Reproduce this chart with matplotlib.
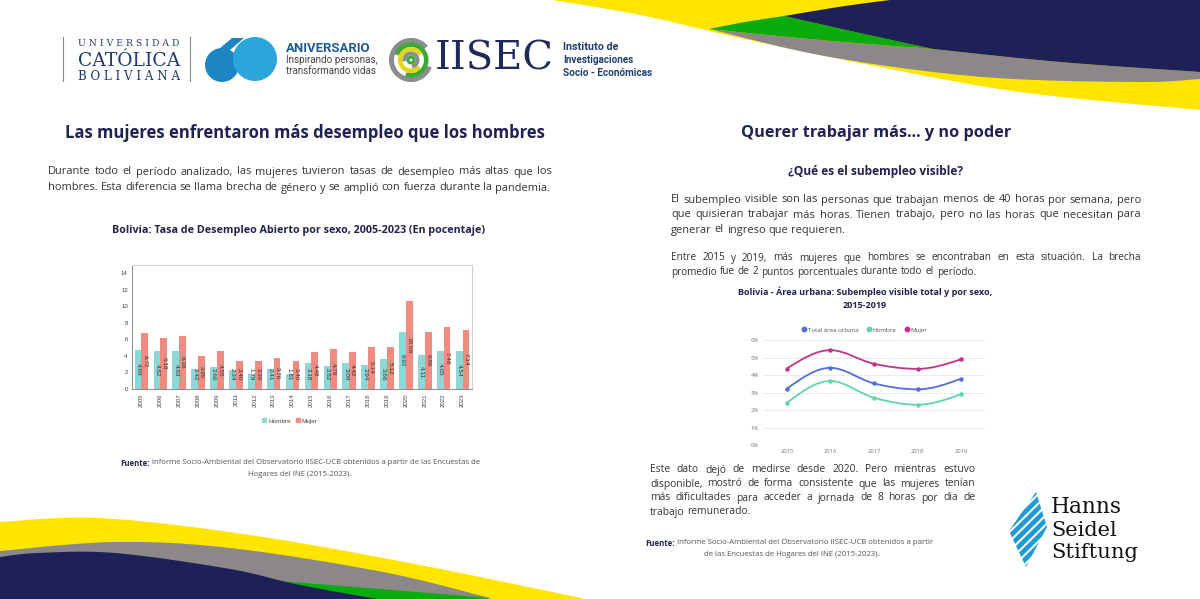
import numpy as np
import matplotlib
matplotlib.use('Agg')
import matplotlib.pyplot as plt
from matplotlib.path import Path
from matplotlib.patches import PathPatch, Patch, Circle, Wedge, Polygon
from matplotlib.lines import Line2D

# --- data ---------------------------------------------------------------
years_bar = ['2005', '2006', '2007', '2008', '2009', '2011', '2012', '2013', '2014',
             '2015', '2016', '2017', '2018', '2019', '2020', '2021', '2022', '2023']
hombre_bar = [4.69, 4.62, 4.63, 2.42, 2.66, 2.34, 1.79, 2.41, 1.81,
              3.18, 2.82, 3.09, 2.94, 3.66, 6.92, 4.11, 4.65, 4.54]
mujer_bar = [6.72, 6.18, 6.36, 3.95, 4.55, 3.40, 3.39, 3.76, 3.40,
             4.48, 4.79, 4.42, 5.14, 5.12, 10.66, 6.86, 7.48, 7.14]

years_line = ['2015', '2016', '2017', '2018', '2019']
total_line = [3.22, 4.41, 3.52, 3.18, 3.79]
hombre_line = [2.41, 3.66, 2.70, 2.30, 2.91]
mujer_line = [4.37, 5.42, 4.64, 4.35, 4.90]

W, H = 1200, 599
NAVY = '#1f2352'
TXT = '#333333'
BODY = 'Open Sans'

plt.rcParams['font.family'] = [BODY, 'DejaVu Sans']

fig = plt.figure(figsize=(W / 100, H / 100), dpi=100)
bg = fig.add_axes([0, 0, 1, 1])
bg.set_xlim(0, W)
bg.set_ylim(H, 0)
bg.axis('off')
R = fig.canvas.get_renderer()


def px_axes(l, t, r, b):
    return fig.add_axes([l / W, 1 - b / H, (r - l) / W, (b - t) / H])


def width_of(t):
    return t.get_window_extent(R).width


def fit(x, y, s, w, ha='left', **kw):
    t = bg.text(x, y, s, fontsize=10, ha=ha, va='center', **kw)
    t.set_fontsize(10 * w / width_of(t))
    return t


def word_widths(line, size):
    # each measured text carries a fixed extra width; take it off
    ts = [bg.text(0, 0, s, fontsize=size) for s in ['n', 'nn'] + line.split()]
    ws = [width_of(t) for t in ts]
    for t in ts:
        t.remove()
    extra = 2 * ws[0] - ws[1]
    return [w - extra for w in ws[2:]]


def place(line, x0, y, size, gap):
    x = x0
    for wd, w in zip(line.split(), word_widths(line, size)):
        bg.text(x, y, wd, fontsize=size, color=TXT, va='center')
        x += w + gap


def paragraph(lines, x0, x1, y0, dy, last_w, last_gap=3.0):
    # size from the width of the last (left aligned) line, full lines justified
    ws = word_widths(lines[-1], 10)
    size = 10 * (last_w - last_gap * (len(ws) - 1)) / sum(ws)
    for i, ln in enumerate(lines[:-1]):
        ws = word_widths(ln, size)
        place(ln, x0, y0 + dy * i, size, (x1 - x0 - sum(ws)) / (len(ws) - 1))
    place(lines[-1], x0, y0 + dy * (len(lines) - 1), size, last_gap)


def source(parts, xc, y, size, ha='center'):
    ts = [bg.text(0, y, s, fontsize=size, fontweight=wt, color=c, va='center') for s, wt, c in parts]
    ws = [width_of(t) for t in ts]
    x = xc - sum(ws) / 2 if ha == 'center' else xc
    for t, w in zip(ts, ws):
        t.set_x(x)
        x += w


def curve(pts, n=40):
    p = np.array(pts, float)
    p = np.vstack([p[0], p, p[-1]])
    out = []
    t = np.linspace(0, 1, n)[:, None]
    for i in range(1, len(p) - 2):
        p0, p1, p2, p3 = p[i - 1], p[i], p[i + 1], p[i + 2]
        seg = 0.5 * (2 * p1 + (-p0 + p2) * t + (2 * p0 - 5 * p1 + 4 * p2 - p3) * t ** 2
                     + (-p0 + 3 * p1 - 3 * p2 + p3) * t ** 3)
        out.append(seg if i == 1 else seg[1:])
    return np.vstack(out)


def shape(arrs, color):
    pts = np.vstack([np.atleast_2d(a) for a in arrs])
    bg.add_patch(Polygon(pts, closed=True, fc=color, ec='none'))


YEL, GRN, GRY, NVY = '#ffe500', '#0aab0a', '#8c8889', '#1d2157'

# --- decorative waves, top right -----------------------------------------
Y = curve([(540, -2), (640, 15), (740, 38), (870, 65), (1020, 92), (1200, 110)])
shape([Y, [(1200, -2)]], YEL)
A = curve([(709, 29), (830, 57), (983, 77), (1136, 82), (1200, 79)])
B1 = curve([(709, 29), (820, 40), (933, 49)])
B2 = curve([(933, 49), (1060, 62), (1200, 72)])
shape([A, B2[::-1], B1[::-1]], GRY)
C1 = curve([(709, 29), (745, 22), (784, 16)])
nav_edge = curve([(784, 16), (855, 32), (933, 49)])
shape([C1, nav_edge, B1[::-1]], GRN)
top_edge = curve([(784, 16), (845, 6), (906, -2)])
shape([top_edge, [(1200, -2)], B2[::-1], nav_edge[::-1]], NVY)

# --- decorative waves, bottom left ---------------------------------------
shape([curve([(0, 522), (100, 518), (250, 535), (420, 565), (600, 602)]),
       [(600, 602), (0, 602)]], YEL)
shape([curve([(0, 551), (115, 542), (230, 548), (383, 572), (490, 598)]),
       [(490, 602), (0, 602)]], GRY)
shape([curve([(230, 576), (268, 580), (380, 589), (490, 598)]), [(440, 602), (230, 602)]], GRN)
shape([curve([(0, 557), (38, 553), (115, 553), (230, 569), (300, 585), (400, 603)]),
       [(0, 603)]], NVY)

# --- header logos ---------------------------------------------------------
bg.plot([63, 63], [37, 81], color='#8a8a8a', lw=0.8)
bg.plot([190, 190], [37, 81], color='#8a8a8a', lw=0.8)
UCB = '#1f3c6c'
fit(78, 43, 'U N I V E R S I D A D', 101, color=UCB, family='DejaVu Serif')
fit(78, 61, 'CATÓLICA', 102, color=UCB, family='DejaVu Serif')
fit(78, 77, 'B O L I V I A N A', 101, color=UCB, family='DejaVu Serif')

bg.add_patch(Circle((222, 65), 17, fc='#1d86c2', ec='none'))
bg.add_patch(Polygon([(206, 60), (232, 38), (244, 38), (230, 50)], fc='#1d86c2', ec='none'))
bg.add_patch(Circle((255, 59), 22, fc='#2ba6da', ec='none'))
fit(286, 48, 'ANIVERSARIO', 84, color='#1c5a96', fontweight='bold', family='Roboto')
fit(286, 60, 'Inspirando personas,', 92, color='#444444', family='Roboto')
fit(286, 71, 'transformando vidas', 90, color='#444444', family='Roboto')

cx, cy = 411, 60
bg.add_patch(Wedge((cx, cy), 22, 20, 320, width=5, fc='#8b8c8e', ec='none'))
bg.add_patch(Wedge((cx, cy), 17.5, 200, 470, width=4.5, fc='#3aa935', ec='none'))
bg.add_patch(Wedge((cx, cy), 13, 40, 330, width=4.5, fc='#e3d61a', ec='none'))
bg.add_patch(Wedge((cx, cy), 8.5, 170, 440, width=4, fc='#8b8c8e', ec='none'))
bg.add_patch(Wedge((cx, cy), 4.5, 0, 360, width=3, fc='#3aa935', ec='none'))
fit(435, 59, 'IISEC', 118, color='#1f2a5c', family='DejaVu Serif')
II = '#1f3f75'
fit(563, 47, 'Instituto de', 55, color=II, fontweight='bold', family='Roboto')
fit(563, 60, 'Investigaciones', 70, color=II, fontweight='bold', family='Roboto')
fit(563, 73, 'Socio - Económicas', 89, color=II, fontweight='bold', family='Roboto')

# --- left column text ----------------------------------------------------
fit(305, 133, 'Las mujeres enfrentaron más desempleo que los hombres', 482,
    ha='center', color=NAVY, fontweight='bold')
paragraph(['Durante todo el período analizado, las mujeres tuvieron tasas de desempleo más altas que los',
           'hombres. Esta diferencia se llama brecha de género y se amplió con fuerza durante la pandemia.'],
          48, 552, 172, 16, 498)
fit(299, 230, 'Bolivia: Tasa de Desempleo Abierto por sexo, 2005-2023 (En pocentaje)', 372,
    ha='center', color=NAVY, fontweight='bold')
source([('Fuente:', 'bold', NAVY),
        (' informe Socio-Ambiental del Observatorio IISEC-UCB obtenidos a partir de las Encuestas de', 'normal', '#555555')],
       300, 463, 5.6)
source([('Hogares del INE (2015-2023).', 'normal', '#555555')], 300, 475, 5.6)

# --- bar chart -----------------------------------------------------------
HOM_C, MUJ_C = '#8fd7d7', '#f08b82'
ax = px_axes(132, 265, 472, 389)
x = np.arange(len(years_bar))
bw = 0.36
ax.bar(x - bw / 2, hombre_bar, bw, color=HOM_C, label='Hombre')
ax.bar(x + bw / 2, mujer_bar, bw, color=MUJ_C, label='Mujer')
for xi, h, m in zip(x, hombre_bar, mujer_bar):
    for off, v in ((-bw / 2, h), (bw / 2, m)):
        ax.text(xi + off, max(v / 2, 1.75), f'{v:.2f}', rotation=270, ha='center', va='center',
                fontsize=4.6, color='#333333', family='Liberation Sans')
ax.set_xlim(-0.5, len(years_bar) - 0.5)
ax.set_ylim(0, 15)
ax.set_yticks(range(0, 15, 2))
ax.set_xticks(x)
ax.set_xticklabels(years_bar, rotation=90)
ax.tick_params(axis='both', labelsize=4.4, colors='#444444', length=0, pad=3)
for lab in ax.get_xticklabels() + ax.get_yticklabels():
    lab.set_family('Liberation Sans')
for s in ('left', 'bottom'):
    ax.spines[s].set_color('#8a8a8a')
    ax.spines[s].set_linewidth(0.7)
for s in ('top', 'right'):
    ax.spines[s].set_color('#d0d0d0')
    ax.spines[s].set_linewidth(0.8)
fig.legend(handles=[Patch(color=HOM_C), Patch(color=MUJ_C)], labels=['Hombre', 'Mujer'],
           loc='center', bbox_to_anchor=(290 / W, 1 - 421 / H), ncol=2, frameon=False,
           prop={'family': 'Liberation Sans', 'size': 4.6}, handlelength=0.6, handleheight=0.6,
           handletextpad=0.3, columnspacing=0.8, labelcolor='#444444')

# --- right column text ---------------------------------------------------
fit(876, 133, 'Querer trabajar más... y no poder', 271, ha='center', color=NAVY, fontweight='bold')
fit(876, 171, '¿Qué es el subempleo visible?', 176, ha='center', color=NAVY, fontweight='bold')
paragraph(['El subempleo visible son las personas que trabajan menos de 40 horas por semana, pero',
           'que quisieran trabajar más horas. Tienen trabajo, pero no las horas que necesitan para',
           'generar el ingreso que requieren.'],
          671, 1141, 200, 15, 172)
paragraph(['Entre 2015 y 2019, más mujeres que hombres se encontraban en esta situación. La brecha',
           'promedio fue de 2 puntos porcentuales durante todo el período.'],
          671, 1141, 258, 14, 305)
fit(865, 292, 'Bolivia - Área urbana: Subempleo visible total y por sexo,', 255, ha='center',
    color=NAVY, fontweight='bold')
fit(865, 305, '2015-2019', 44, ha='center', color=NAVY, fontweight='bold')

# --- line chart ----------------------------------------------------------
TOT_C, HLN_C, MLN_C = '#4f6fdb', '#5fd6a9', '#c3308f'
lx = px_axes(763, 340, 985, 445)


def monotone(xs, ys):
    xs = np.asarray(xs, float)
    ys = np.asarray(ys, float)
    s = np.diff(ys) / np.diff(xs)
    t = np.zeros_like(ys)
    for i in range(1, len(ys) - 1):
        if s[i - 1] * s[i] > 0:
            p = (s[i - 1] + s[i]) / 2
            t[i] = np.sign(s[i]) * min(abs(s[i - 1]), abs(s[i]), 0.5 * abs(p)) * 2
    t[0] = (3 * s[0] - t[1]) / 2
    t[-1] = (3 * s[-1] - t[-2]) / 2
    verts = [(xs[0], ys[0])]
    codes = [Path.MOVETO]
    for i in range(len(xs) - 1):
        h = (xs[i + 1] - xs[i]) / 3
        verts += [(xs[i] + h, ys[i] + t[i] * h), (xs[i + 1] - h, ys[i + 1] - t[i + 1] * h),
                  (xs[i + 1], ys[i + 1])]
        codes += [Path.CURVE4] * 3
    return Path(verts, codes)


xl = np.arange(len(years_line))
handles = []
for vals, c, name in ((total_line, TOT_C, 'Total área urbana'), (hombre_line, HLN_C, 'Hombre'),
                      (mujer_line, MLN_C, 'Mujer')):
    lx.add_patch(PathPatch(monotone(xl, vals), fill=False, ec=c, lw=1.3))
    lx.plot(xl, vals, 'o', color=c, ms=2.2)
    handles.append(Line2D([], [], marker='o', ls='none', color=c, ms=3.2, label=name))
lx.set_xlim(-0.55, len(years_line) - 0.45)
lx.set_ylim(0, 6)
lx.set_yticks(range(0, 7))
lx.set_yticklabels([f'{v}%' for v in range(0, 7)])
lx.set_xticks(xl)
lx.set_xticklabels(years_line)
lx.grid(axis='y', color='#e9e9e9', lw=0.6)
lx.set_axisbelow(True)
for s in lx.spines.values():
    s.set_visible(False)
lx.tick_params(axis='both', labelsize=4.2, colors='#777777', length=0, pad=3)
fig.legend(handles=handles, loc='center', bbox_to_anchor=(864 / W, 1 - 330 / H), ncol=3,
           frameon=False, prop={'size': 4.4}, handletextpad=0.1, columnspacing=1.2,
           labelcolor='#555555', handlelength=1.0)

paragraph(['Este dato dejó de medirse desde 2020. Pero mientras estuvo',
           'disponible, mostró de forma consistente que las mujeres tenían',
           'más dificultades para acceder a jornada de 8 horas por dia de',
           'trabajo remunerado.'],
          650, 975, 470, 14, 100)
source([('Fuente:', 'bold', NAVY),
        (' Informe Socio-Ambiental del Observatorio IISEC-UCB obtenidos a partir', 'normal', '#555555')],
       645, 543, 5.6, ha='left')
source([('de las Encuestas de Hogares del INE (2015-2023).', 'normal', '#555555')], 792, 554, 5.6)

# --- Hanns Seidel Stiftung logo --------------------------------------------
rh = Polygon([(1036, 492), (1047, 527), (1026, 567), (1009, 531)], closed=True, fc='none', ec='none')
bg.add_patch(rh)
for k in range(8):
    y0 = 500 + k * 9.5
    ln, = bg.plot([995, 1060], [y0 + 32, y0 - 32], color='#1e9bd7', lw=3.4, solid_capstyle='butt')
    ln.set_clip_path(rh)
fit(1051, 507, 'Hanns', 71, color='#111111', family='DejaVu Serif')
fit(1051, 530, 'Seidel', 66, color='#111111', family='DejaVu Serif')
fit(1051, 553, 'Stiftung', 87, color='#111111', family='DejaVu Serif')

fig.savefig('out.png', dpi=100)
